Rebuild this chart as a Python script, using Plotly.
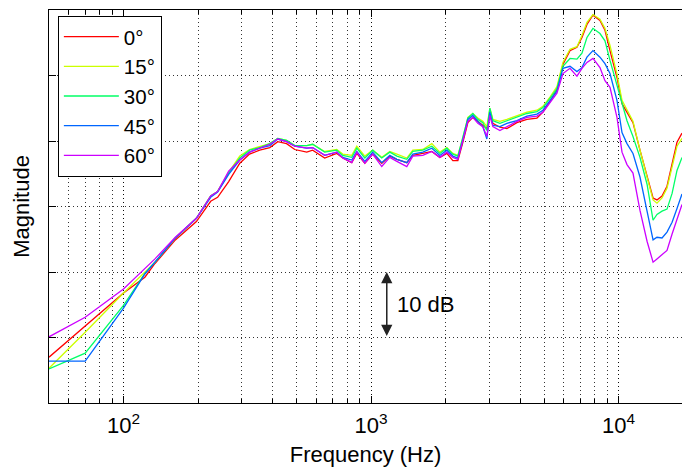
import numpy as np
import plotly.graph_objects as go

# Frequency axis (Hz) shared by all measurements
freq_hz = [50, 70, 100, 122, 134, 162, 197, 225, 240, 266, 295, 323, 355, 390, 420, 456,
           492, 550, 581, 650, 727, 769, 836, 876, 944, 1016, 1105, 1191, 1272, 1395, 1475,
           1619, 1761, 1897, 2025, 2141, 2243, 2350, 2462, 2579, 2702, 2830, 2938, 3021,
           3107, 3317, 3540, 3885, 4264, 4681, 4950, 5284, 5639, 5962, 6366, 6792, 7117,
           7456, 7884, 8414, 8816, 9237, 9858, 10330, 10820, 11440, 12210, 13040, 13790,
           14300, 14990, 15700, 16460, 17230, 18050]

# Magnitude responses (dB) per incidence angle
mag_0 = [-33.0, -28.3, -23.2, -20.8, -18.7, -15.1, -12.3, -9.2, -8.6, -6.2, -3.4, -2.0, -1.4,
         -1.0, -0.1, -0.4, -1.3, -1.7, -1.4, -2.6, -1.9, -2.6, -3.3, -1.9, -3.4, -2.0, -3.4,
         -2.3, -2.8, -3.3, -2.2, -1.9, -1.6, -2.5, -1.9, -3.0, -3.0, -0.2, 2.8, 3.6, 3.0, 2.4,
         1.9, 3.9, 2.7, 2.1, 1.9, 2.8, 3.3, 3.5, 4.4, 6.0, 7.9, 11.7, 13.8, 14.3, 15.8, 17.8,
         19.2, 18.4, 16.9, 13.8, 9.7, 5.7, 4.4, 2.8, -1.4, -5.5, -8.7, -9.0, -8.4, -6.9, -3.4,
         -0.2, 1.2]
mag_15 = [-34.7, -29.2, -23.2, -19.9, -18.5, -14.8, -11.8, -8.4, -7.7, -4.8, -2.3, -1.3, -0.8,
          -0.4, 0.4, 0.1, -0.7, -0.7, -0.5, -1.6, -1.3, -2.0, -2.2, -0.8, -2.3, -1.4, -2.5,
          -1.6, -2.0, -2.6, -1.4, -1.3, -0.4, -1.7, -1.0, -1.9, -2.2, 0.4, 3.6, 4.2, 3.5, 3.0,
          2.2, 5.0, 3.3, 3.0, 3.3, 3.8, 4.4, 4.7, 5.3, 6.7, 8.3, 12.0, 14.0, 14.4, 16.1, 18.1,
          19.3, 18.6, 17.2, 14.6, 10.2, 6.2, 4.7, 3.0, -1.4, -5.7, -9.0, -9.5, -8.7, -7.2,
          -3.9, -0.8, 0.4]
mag_30 = [-34.8, -32.4, -25.1, -20.2, -18.5, -14.8, -11.8, -8.4, -7.7, -4.9, -2.6, -1.4, -1.0,
          -0.4, 0.4, 0.1, -0.7, -0.7, -0.5, -1.7, -1.4, -2.2, -2.5, -1.1, -2.6, -1.4, -2.6,
          -1.7, -2.3, -2.8, -1.6, -1.4, -0.8, -1.9, -1.1, -2.0, -2.3, 0.4, 3.5, 4.2, 3.3, 2.8,
          1.6, 5.0, 3.1, 2.7, 3.1, 3.6, 4.2, 4.5, 5.1, 6.5, 8.0, 11.4, 12.6, 12.5, 13.4, 15.8,
          17.2, 16.4, 15.3, 12.3, 8.5, 5.4, 3.1, 0.7, -2.5, -6.6, -12.1, -11.2, -10.7, -10.4,
          -8.0, -4.5, -2.5]
mag_45 = [-33.6, -33.6, -25.5, -20.3, -18.5, -14.8, -11.8, -8.6, -7.8, -5.1, -2.9, -1.7, -1.1,
          -0.7, 0.3, -0.1, -0.8, -1.1, -1.0, -2.2, -1.7, -2.5, -2.9, -1.6, -3.1, -1.7, -3.3,
          -2.2, -2.8, -3.3, -2.0, -1.7, -1.1, -2.2, -1.4, -2.3, -2.6, 0.1, 3.3, 3.9, 3.0, 2.2,
          0.3, 4.4, 2.4, 2.2, 2.7, 3.1, 3.8, 4.1, 4.7, 6.2, 7.6, 11.1, 11.4, 10.6, 11.2, 12.8,
          13.8, 12.8, 11.8, 10.3, 6.2, 1.3, -0.4, -1.9, -5.5, -10.7, -15.1, -14.7, -14.8,
          -13.9, -12.4, -10.3, -8.1]
mag_60 = [-29.9, -26.9, -22.6, -19.4, -18.0, -14.7, -11.8, -8.4, -7.7, -4.6, -2.9, -1.7, -1.1,
          -0.5, 0.3, -0.1, -0.8, -1.1, -1.0, -2.2, -1.7, -2.6, -3.3, -1.7, -3.4, -2.0, -3.9,
          -2.5, -3.1, -3.9, -2.3, -2.2, -1.6, -2.5, -1.7, -2.5, -2.8, -0.1, 3.0, 3.6, 2.7, 2.2,
          0.7, 3.9, 2.2, 1.6, 2.2, 3.0, 3.6, 3.8, 4.4, 5.9, 7.3, 10.3, 11.1, 9.9, 11.1, 12.0,
          12.6, 11.2, 9.2, 8.2, 3.6, -1.7, -3.6, -4.9, -10.6, -15.3, -18.5, -18.0, -17.4,
          -16.7, -14.2, -11.8, -9.7]

angle_labels = ["0°", "15°", "30°", "45°", "60°"]
series = [mag_0, mag_15, mag_30, mag_45, mag_60]
# hsv(5) colour cycle
colors = ["#FF0000", "#CCFF00", "#00FF66", "#0066FF", "#CC00FF"]

# Scale bar
scale_bar_freq = 1158
scale_bar_db = [-20, -30]
scale_text_freq = 1250

FONT = "Liberation Sans, Arial, sans-serif"

fig = go.Figure()
for name, vals, col in zip(angle_labels, series, colors):
    fig.add_trace(go.Scatter(x=freq_hz, y=vals, mode="lines", name=name,
                             line=dict(color=col, width=1.3)))

grid_dash = "1px,3px"
grid_col = "rgba(0,0,0,0.8)"

fig.update_layout(
    width=682, height=467,
    margin=dict(l=49, r=0, t=10, b=64),
    paper_bgcolor="white", plot_bgcolor="white",
    font=dict(family=FONT, size=22, color="black"),
    showlegend=True,
    legend=dict(x=0.014, y=0.985, xanchor="left", yanchor="top",
                bgcolor="white", bordercolor="black", borderwidth=1,
                font=dict(size=20.5), itemwidth=55, tracegroupgap=0),
)

fig.update_xaxes(
    type="log", range=[np.log10(50), np.log10(18050)],
    tickvals=[100, 1000, 10000],
    ticktext=["10<sup>2</sup>", "10<sup>3</sup>", "10<sup>4</sup>"],
    ticks="inside", ticklen=7, tickcolor="black", tickwidth=1,
    showline=True, linecolor="black", linewidth=1, mirror="ticks",
    showgrid=True, gridcolor=grid_col, griddash=grid_dash, gridwidth=1,
    minor=dict(dtick="D1", ticks="inside", ticklen=4, tickcolor="black",
               showgrid=True, gridcolor=grid_col, griddash=grid_dash, gridwidth=1),
    ticklabelstandoff=3,
    title=dict(text="Frequency (Hz)", font=dict(size=22), standoff=9),
    zeroline=False,
)

fig.update_yaxes(
    range=[-40, 20], dtick=10, tick0=0,
    showticklabels=False,
    ticks="inside", ticklen=7, tickcolor="black",
    showline=True, linecolor="black", linewidth=1, mirror=False,
    showgrid=True, gridcolor=grid_col, griddash=grid_dash, gridwidth=1,
    title=dict(text="Magnitude", font=dict(size=22), standoff=12),
    zeroline=False,
)

# 10 dB scale arrow with label
fig.add_annotation(x=np.log10(scale_bar_freq), y=scale_bar_db[0],
                   ax=np.log10(scale_bar_freq), ay=scale_bar_db[1],
                   xref="x", yref="y", axref="x", ayref="y",
                   text="", showarrow=True, arrowhead=2, arrowside="end+start",
                   arrowsize=1.5, arrowwidth=1.5, arrowcolor="#222",
                   standoff=0, startstandoff=0)
fig.add_annotation(x=np.log10(scale_text_freq), y=np.mean(scale_bar_db),
                   xref="x", yref="y", text="10 dB", showarrow=False,
                   xanchor="left", yanchor="middle", font=dict(size=22))

fig.write_html("out.html")
